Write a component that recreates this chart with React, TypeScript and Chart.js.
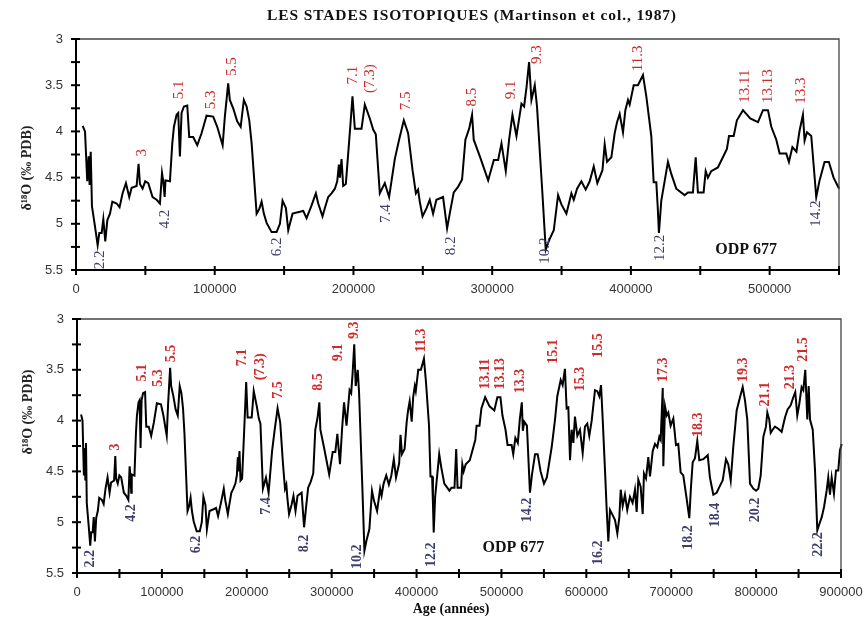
import React, { useEffect, useRef } from 'react';
import { Chart, registerables } from 'chart.js';

Chart.register(...registerables);

// ---- Data: ODP 677 δ18O record (age in years, δ18O ‰ PDB) ----
const ages = [
  4800, 6500, 8100, 9100, 9800, 10600, 11500, 13700, 15600, 16800, 18500, 19700, 21100, 22600, 24500, 26200,
  29300, 31400, 33600, 36000, 38400, 40100, 43700, 45100, 46100, 48000, 49900, 52100, 55200, 58100, 60500, 62000,
  62900, 63900, 64500, 67700, 69400, 70600, 72500, 73700, 74900, 76100, 77800, 80200, 81600, 84500, 87400, 90500,
  94100, 98900, 101800, 105700, 107300, 109700, 110900, 113300, 116200, 118700, 121000, 123000, 124900, 126600,
  130200, 132100, 133800, 135400, 137400, 141000, 144600, 147000, 148900, 151300, 153000, 156100, 161400, 163800,
  166200, 169800, 172900, 174600, 177700, 179400, 181800, 184200, 186600, 188300, 189500, 190200, 191400, 192600,
  194500, 196200, 197900, 199300, 201000, 205800, 208200, 211800, 214200, 216100, 219000, 222600, 225700, 229800,
  232900, 236300, 239400, 242600, 245000, 246600, 247800, 249800, 252700, 255000, 257400, 259800, 264600, 267500,
  269900, 272300, 275400, 278300, 280700, 283400, 285500, 286700, 291100, 297100, 301200, 304300, 306700, 309800,
  312200, 314600, 317500, 321100, 323000, 324700, 326600, 328300, 330700, 332300, 336200, 338600, 341000, 344400,
  347500, 349900, 353500, 357100, 358800, 361200, 364300, 367400, 370300, 373200, 375800, 379500, 381100, 382800,
  385900, 388300, 390000, 391900, 394300, 396000, 397900, 399100, 402000, 405100, 408700, 411100, 414700, 416400,
  418300, 419300, 420200, 421900, 424300, 426700, 429100, 432700, 438700, 441100, 444700, 446700, 448300, 452400,
  453900, 455500, 457900, 462700, 466300, 469200, 470700, 474100, 476400, 480800, 486000, 491600, 495200, 498800,
  501200, 504800, 507200, 512000, 513900, 516400, 519300, 521600, 524000, 525200, 526900, 530000, 533600, 536000,
  539600, 542700, 546100, 550100, 553500, 559200, 563100, 565800, 569800, 572100, 574800, 576000, 576800, 578800,
  580800, 582700, 584700, 586600, 589400, 592500, 595700, 598400, 601100, 603500, 606300, 610200, 612900, 615300,
  617300, 619300, 622000, 624000, 625900, 627900, 631000, 633800, 636500, 638900, 640500, 642800, 645500, 648200,
  651400, 654500, 657300, 659300, 661200, 664000, 666400, 667900, 670300, 673000, 675000, 678200, 680900, 683600,
  686000, 687600, 690000, 690700, 692700, 694700, 696600, 699300, 702500, 705600, 708300, 711100, 714200, 718200,
  721300, 723300, 725300, 728000, 730700, 733100, 737800, 743000, 745600, 749600, 753500, 757500, 760600, 764500,
  767200, 770100, 773100, 777100, 781000, 784200, 786900, 789600, 792800, 796700, 799900, 802600, 805400, 808500,
  811600, 813200, 815500, 817200, 819500, 822200, 826100, 830100, 834000, 837100, 840700, 843800, 846100, 848500,
  850800, 853600, 855600, 857900, 860300, 861900, 863500, 866700, 869400, 872100, 874400, 877300, 880000, 883100,
  885000, 887000, 889000, 891700, 894100, 896800, 898800, 900800, 902500, 904700,
];

const d18O = [
  3.94, 4.00, 4.54, 4.27, 4.58, 4.22, 4.81, 5.03, 5.23, 5.10, 5.10, 4.95, 5.19, 4.96, 4.89, 4.76,
  4.78, 4.82, 4.67, 4.56, 4.71, 4.61, 4.59, 4.35, 4.57, 4.62, 4.54, 4.56, 4.71, 4.74, 4.78, 4.45,
  4.54, 4.71, 4.53, 4.54, 4.13, 3.95, 3.82, 3.80, 4.27, 3.80, 3.73, 3.72, 4.06, 4.06, 4.15, 4.02,
  3.83, 3.84, 3.95, 4.15, 3.84, 3.48, 3.66, 3.75, 3.89, 3.95, 3.66, 3.73, 3.88, 4.13,
  4.89, 4.84, 4.76, 4.89, 4.99, 5.09, 5.09, 5.00, 4.75, 4.83, 5.07, 4.89, 4.87, 4.86,
  4.94, 4.80, 4.67, 4.78, 4.92, 4.83, 4.71, 4.67, 4.62, 4.54, 4.36, 4.50, 4.30, 4.59,
  4.57, 4.24, 3.91, 3.62, 3.97, 3.97, 3.71, 3.86, 3.98, 4.03, 4.67, 4.56, 4.71, 4.30,
  4.09, 3.88, 4.02, 4.42, 4.67, 4.63, 4.76, 4.92, 4.83, 4.74, 4.89, 4.74, 4.71, 5.05,
  4.85, 4.66, 4.60, 4.52, 4.09, 3.97, 3.82, 4.09, 4.27, 4.53, 4.31, 4.31, 4.13, 4.43,
  4.09, 3.82, 4.05, 3.70, 3.73, 3.53, 3.25, 3.66, 3.50, 3.73, 4.67, 5.28, 5.18, 5.07,
  4.69, 4.79, 4.89, 4.67, 4.74, 4.62, 4.54, 4.63, 4.54, 4.38, 4.56, 4.42, 4.14, 4.33,
  4.28, 4.02, 3.90, 3.81, 4.01, 3.77, 3.66, 3.71, 3.50, 3.50, 3.39, 3.62, 4.05, 4.55,
  4.55, 4.81, 5.10, 4.75, 4.54, 4.33, 4.46, 4.62, 4.69, 4.66, 4.66, 4.28, 4.66, 4.66,
  4.43, 4.50, 4.43, 4.39, 4.28, 4.19, 4.05, 4.05, 3.88, 3.77, 3.86, 3.90, 3.77, 3.77,
  3.95, 4.09, 4.24, 4.24, 4.33, 4.17, 4.22, 3.99, 3.82, 4.10, 4.01, 4.05, 4.71, 4.53,
  4.33, 4.33, 4.50, 4.62, 4.56, 4.26, 3.99, 3.76, 3.60, 3.65, 3.49, 3.73, 3.88, 3.87,
  4.39, 4.09, 4.22, 3.96, 4.15, 4.09, 4.32, 4.06, 4.03, 4.15, 4.00, 3.70, 3.71, 3.76,
  3.65, 3.99, 4.49, 4.88, 5.19, 4.88, 4.93, 4.98, 5.11, 4.95, 4.68, 4.84, 4.73, 4.88,
  4.75, 4.81, 4.68, 4.90, 4.58, 4.65, 4.92, 4.52, 4.57, 4.36, 4.55, 4.30, 4.23, 4.26,
  4.16, 4.19, 3.68, 4.45, 3.86, 3.95, 3.92, 4.05, 3.98, 4.24, 4.23, 4.51, 4.54, 4.77,
  4.96, 4.65, 4.41, 4.37, 4.20, 4.39, 4.38, 4.34, 4.56, 4.73, 4.71, 4.64, 4.59, 4.38,
  4.43, 4.59, 4.26, 3.90, 3.77, 3.67, 3.80, 3.99, 4.62, 4.67, 4.69, 4.67, 4.54, 4.16,
  4.06, 3.92, 3.99, 4.12, 4.09, 4.06, 4.08, 4.11, 3.97, 3.89, 3.85, 3.77, 3.72, 3.95,
  3.84, 3.67, 3.70, 3.50, 3.99, 3.66, 3.99, 4.09, 4.49, 5.08, 5.02, 4.95, 4.85, 4.69,
  4.56, 4.73, 4.56, 4.72, 4.49, 4.49, 4.29, 4.23, 4.20, 4.02,
];

// ---- Isotopic stage labels (text, age, δ18O position, peak=true / trough=false) ----
const topStageText = ['2.2', '3', '4.2', '5.1', '5.3', '5.5', '6.2', '7.1', '(7.3)', '7.4', '7.5', '8.2', '8.5', '9.1', '9.3', '10.2', '11.3', '12.2', '13.11', '13.13', '13.3', '14.2'];
const topStageAge = [17300, 47300, 64100, 74400, 97000, 112200, 144600, 199800, 211800, 223800, 237700, 270700, 285500, 313900, 332300, 337900, 405100, 420700, 482000, 498800, 522800, 533600];
const topStageValue = [5.39, 4.23, 4.95, 3.55, 3.66, 3.30, 5.25, 3.39, 3.43, 4.89, 3.67, 5.24, 3.63, 3.55, 3.17, 5.29, 3.21, 5.26, 3.51, 3.51, 3.56, 4.89];
const topStageIsPeak = [false, true, false, true, true, true, false, true, true, false, true, false, true, true, true, false, true, false, true, true, true, false];

const bottomStageText = ['2.2', '3', '4.2', '5.1', '5.3', '5.5', '6.2', '7.1', '(7.3)', '7.4', '7.5', '8.2', '8.5', '9.1', '9.3', '10.2', '11.3', '12.2', '13.11', '13.13', '13.3', '14.2', '15.1', '15.3', '15.5', '16.2', '17.3', '18.2', '18.3', '18.4', '19.3', '20.2', '21.1', '21.3', '21.5', '22.2'];
const bottomStageAge = [15300, 44800, 63600, 77400, 95800, 111500, 141000, 195200, 215600, 223500, 237100, 267800, 284300, 307800, 326700, 330600, 406000, 417800, 480600, 498300, 521800, 530900, 561100, 592500, 614100, 614100, 690700, 720100, 731900, 751600, 784900, 798700, 810500, 839900, 855600, 873300];
const bottomStageValue = [5.36, 4.26, 4.91, 3.53, 3.58, 3.34, 5.22, 3.38, 3.47, 4.84, 3.70, 5.21, 3.62, 3.33, 3.11, 5.34, 3.21, 5.32, 3.54, 3.54, 3.61, 4.88, 3.32, 3.59, 3.26, 5.30, 3.50, 5.15, 4.04, 4.93, 3.50, 4.88, 3.74, 3.57, 3.30, 5.22];
const bottomStageIsPeak = [false, true, false, true, true, true, false, true, true, false, true, false, true, true, true, false, true, false, true, true, true, false, true, true, true, false, true, false, true, false, true, false, true, true, true, false];

const siteLabel = 'ODP 677';
const topSiteAge = 483100;
const topSiteValue = 5.28;
const bottomSiteAge = 514000;
const bottomSiteValue = 5.25;

const yTickMin = 3;
const yTickMax = 5.5;
const topXMax = 550000;
const bottomXMax = 900000;

const TITLE = 'LES STADES ISOTOPIQUES (Martinson et col., 1987)';
const Y_TITLE = 'δ¹⁸O (‰ PDB)';
const X_TITLE = 'Age (années)';

const RED = '#cf2a2a';
const BLUE = '#3d3d6e';
const SERIF = '"Liberation Serif", "DejaVu Serif", serif';
const SANS = '"Liberation Sans", Arial, sans-serif';

type PanelOpts = {
  xMax: number;
  maxAge: number;
  width: number;
  height: number;
  padTop: number;
  padRight: number;
  yWidth: number;
  xHeight: number;
  texts: string[];
  tAges: number[];
  tVals: number[];
  tPeak: boolean[];
  labelFont: string;
  siteAge: number;
  siteVal: number;
  title?: string;
  yTitlePos: [number, number];
  xTitlePos?: [number, number];
};

function makeDecor(o: PanelOpts) {
  return {
    id: 'decor',
    afterDraw(chart: any) {
      const ctx = chart.ctx as CanvasRenderingContext2D;
      const a = chart.chartArea;
      const xs = chart.scales.x;
      const ys = chart.scales.y;
      ctx.save();
      // frame top/right
      ctx.strokeStyle = '#444';
      ctx.lineWidth = 1.3;
      ctx.beginPath();
      ctx.moveTo(a.left, a.top);
      ctx.lineTo(a.right, a.top);
      ctx.lineTo(a.right, a.bottom);
      ctx.stroke();
      // axes left/bottom
      ctx.strokeStyle = '#000';
      ctx.lineWidth = 2;
      ctx.beginPath();
      ctx.moveTo(a.left, a.top);
      ctx.lineTo(a.left, a.bottom);
      ctx.lineTo(a.right, a.bottom);
      ctx.stroke();
      // crossing tick marks
      ys.ticks.forEach((t: any) => {
        const py = ys.getPixelForValue(t.value);
        ctx.beginPath();
        ctx.moveTo(a.left - 5, py);
        ctx.lineTo(a.left + 4, py);
        ctx.stroke();
      });
      xs.ticks.forEach((t: any) => {
        const px = xs.getPixelForValue(t.value);
        ctx.beginPath();
        ctx.moveTo(px, a.bottom - 4);
        ctx.lineTo(px, a.bottom + 5);
        ctx.stroke();
      });
      // stage labels
      ctx.font = o.labelFont;
      ctx.textAlign = 'center';
      ctx.textBaseline = 'middle';
      o.texts.forEach((txt, i) => {
        const px = xs.getPixelForValue(o.tAges[i]);
        const py = ys.getPixelForValue(o.tVals[i]);
        ctx.save();
        ctx.translate(px, py);
        ctx.rotate(-Math.PI / 2);
        ctx.fillStyle = o.tPeak[i] ? RED : BLUE;
        ctx.fillText(txt, 0, 0);
        ctx.restore();
      });
      // site label
      ctx.fillStyle = '#111';
      ctx.font = `bold 16px ${SERIF}`;
      ctx.fillText(siteLabel, xs.getPixelForValue(o.siteAge), ys.getPixelForValue(o.siteVal));
      // titles
      if (o.title) {
        ctx.font = `bold 15.5px ${SERIF}`;
        ctx.fillStyle = '#111';
        const w = ctx.measureText(o.title).width;
        const extra = (410 - w) / o.title.length;
        (ctx as any).letterSpacing = `${Math.max(0, extra).toFixed(2)}px`;
        ctx.fillText(o.title, 472, 16);
        (ctx as any).letterSpacing = '0px';
      }
      ctx.save();
      ctx.translate(o.yTitlePos[0], o.yTitlePos[1]);
      ctx.rotate(-Math.PI / 2);
      ctx.font = `bold 14px ${SERIF}`;
      ctx.fillStyle = '#222';
      ctx.fillText(Y_TITLE, 0, 0);
      ctx.restore();
      if (o.xTitlePos) {
        ctx.font = `bold 14px ${SERIF}`;
        ctx.fillStyle = '#111';
        ctx.fillText(X_TITLE, o.xTitlePos[0], o.xTitlePos[1]);
      }
      ctx.restore();
    },
  };
}

function makeConfig(o: PanelOpts): any {
  const pts = ages
    .map((x, i) => ({ x, y: d18O[i] }))
    .filter((p) => p.x <= o.maxAge);
  return {
    type: 'line',
    data: {
      datasets: [
        {
          data: pts,
          borderColor: '#000',
          borderWidth: 2,
          pointRadius: 0,
          tension: 0,
          clip: false,
          fill: false,
        },
      ],
    },
    options: {
      animation: false,
      responsive: false,
      maintainAspectRatio: false,
      events: [],
      layout: { padding: { top: o.padTop, right: o.padRight, left: 0, bottom: 0 } },
      plugins: { legend: { display: false }, tooltip: { enabled: false }, title: { display: false } },
      scales: {
        x: {
          type: 'linear',
          min: 0,
          max: o.xMax,
          afterBuildTicks: (s: any) => {
            const t = [];
            for (let v = 0; v <= o.xMax; v += 50000) t.push({ value: v });
            s.ticks = t;
          },
          ticks: {
            autoSkip: false,
            maxRotation: 0,
            padding: 4,
            color: '#333',
            font: { family: SANS, size: 13 },
            callback: (v: number) => (v % 100000 === 0 ? String(v) : ''),
          },
          grid: { display: false },
          border: { display: false },
          afterFit: (s: any) => {
            s.height = o.xHeight;
          },
        },
        y: {
          type: 'linear',
          min: yTickMin,
          max: yTickMax,
          reverse: true,
          afterBuildTicks: (s: any) => {
            const t = [];
            for (let v = yTickMin; v <= yTickMax + 1e-9; v += 0.25) t.push({ value: Math.round(v * 100) / 100 });
            s.ticks = t;
          },
          ticks: {
            autoSkip: false,
            padding: 5,
            color: '#333',
            font: { family: SANS, size: 13 },
            callback: (v: number) => (Math.abs(v * 2 - Math.round(v * 2)) < 1e-6 ? String(v) : ''),
          },
          grid: { display: false },
          border: { display: false },
          afterFit: (s: any) => {
            s.width = o.yWidth;
          },
        },
      },
    },
    plugins: [makeDecor(o)],
  };
}

const topOpts: PanelOpts = {
  xMax: topXMax,
  maxAge: 554000,
  width: 867,
  height: 300,
  padTop: 39,
  padRight: 28,
  yWidth: 76,
  xHeight: 30,
  texts: topStageText,
  tAges: topStageAge,
  tVals: topStageValue,
  tPeak: topStageIsPeak,
  labelFont: `15px ${SERIF}`,
  siteAge: topSiteAge,
  siteVal: topSiteValue,
  title: TITLE,
  yTitlePos: [27, 168],
};

const bottomOpts: PanelOpts = {
  xMax: bottomXMax,
  maxAge: 910000,
  width: 867,
  height: 320,
  padTop: 19,
  padRight: 26,
  yWidth: 77,
  xHeight: 47,
  texts: bottomStageText,
  tAges: bottomStageAge,
  tVals: bottomStageValue,
  tPeak: bottomStageIsPeak,
  labelFont: `bold 14px ${SERIF}`,
  siteAge: bottomSiteAge,
  siteVal: bottomSiteValue,
  yTitlePos: [28, 112],
  xTitlePos: [451, 309],
};

function Panel({ o, top }: { o: PanelOpts; top: number }) {
  const ref = useRef<HTMLCanvasElement>(null);
  useEffect(() => {
    if (!ref.current) return;
    const chart = new Chart(ref.current, makeConfig(o));
    return () => chart.destroy();
  }, [o]);
  return (
    <canvas
      ref={ref}
      width={o.width}
      height={o.height}
      style={{ position: 'absolute', left: 0, top, width: o.width, height: o.height }}
    />
  );
}

export default function App() {
  return (
    <div style={{ position: 'absolute', left: 0, top: 0, width: 867, height: 620, background: '#fff', overflow: 'hidden' }}>
      <Panel o={topOpts} top={0} />
      <Panel o={bottomOpts} top={300} />
    </div>
  );
}
